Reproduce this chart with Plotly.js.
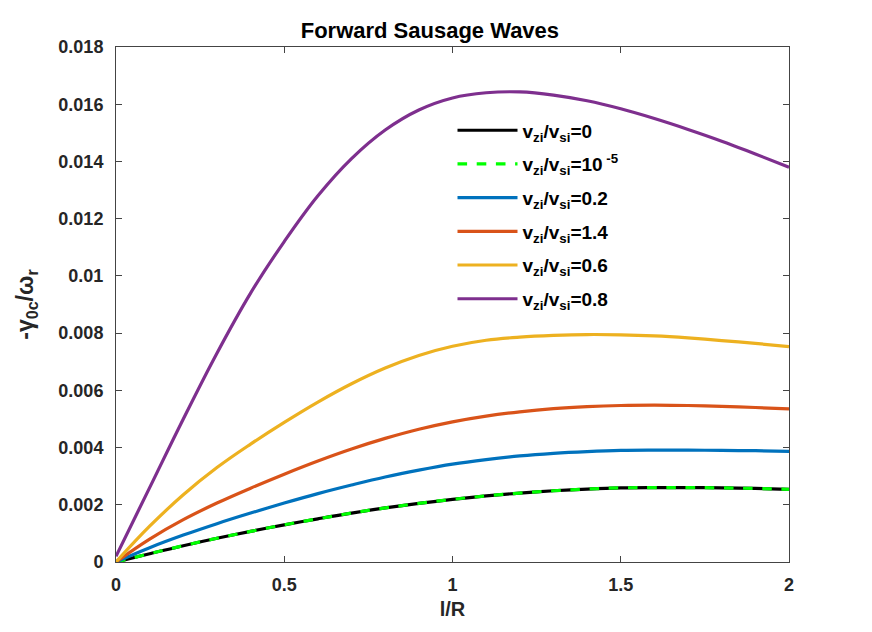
<!DOCTYPE html>
<html>
<head>
<meta charset="utf-8">
<script src="https://cdn.plot.ly/plotly-3.0.1.min.js"></script>
<style>
  html, body { margin: 0; padding: 0; background: #fff; }
  #chart { width: 872px; height: 632px; }
</style>
</head>
<body>
<div id="chart"></div>
<script>
// l/R sample positions
var lR = [0, 0.1, 0.2, 0.3, 0.4, 0.5, 0.6, 0.7, 0.8, 0.9, 1.0,
          1.1, 1.2, 1.3, 1.4, 1.5, 1.6, 1.7, 1.8, 1.9, 2.0];

// -gamma_0c / omega_r for each v_zi/v_si
var g0   = [0, 0.00029, 0.00057, 0.00083, 0.00107, 0.00130, 0.00151, 0.00171, 0.00189, 0.00205, 0.00219,
            0.00231, 0.00241, 0.00249, 0.00255, 0.00259, 0.00260, 0.00260, 0.00259, 0.00257, 0.00254];
var g1e5 = [0, 0.00029, 0.00057, 0.00083, 0.00107, 0.00130, 0.00151, 0.00171, 0.00189, 0.00205, 0.00219,
            0.00231, 0.00241, 0.00249, 0.00255, 0.00259, 0.00260, 0.00260, 0.00259, 0.00257, 0.00254];
var g02  = [0, 0.00050, 0.00094, 0.00134, 0.00171, 0.00206, 0.00239, 0.00269, 0.00297, 0.00321, 0.00342,
            0.00358, 0.00371, 0.00380, 0.00386, 0.00390, 0.00391, 0.00391, 0.00390, 0.00389, 0.00387];
var g14  = [0, 0.00080, 0.00148, 0.00206, 0.00258, 0.00307, 0.00353, 0.00395, 0.00432, 0.00464, 0.00490,
            0.00510, 0.00525, 0.00536, 0.00543, 0.00547, 0.00548, 0.00547, 0.00544, 0.00540, 0.00535];
var g06  = [0, 0.00125, 0.00235, 0.00330, 0.00412, 0.00488, 0.00559, 0.00623, 0.00678, 0.00722, 0.00754,
            0.00775, 0.00786, 0.00792, 0.00795, 0.00794, 0.00790, 0.00783, 0.00774, 0.00764, 0.00753];
var g08  = [0.0002, 0.0026, 0.0050, 0.0073, 0.0094, 0.0112, 0.0128, 0.0141, 0.0151, 0.0158, 0.01622,
            0.0164, 0.01643, 0.01632, 0.01612, 0.01584, 0.0155, 0.01512, 0.01471, 0.01426, 0.0138];

var names = ['v<sub>zi</sub>/v<sub>si</sub>=0',
             'v<sub>zi</sub>/v<sub>si</sub>=10<sup> -5</sup>',
             'v<sub>zi</sub>/v<sub>si</sub>=0.2',
             'v<sub>zi</sub>/v<sub>si</sub>=1.4',
             'v<sub>zi</sub>/v<sub>si</sub>=0.6',
             'v<sub>zi</sub>/v<sub>si</sub>=0.8'];
var series = [g0, g1e5, g02, g14, g06, g08];
var colors = ['#000000', '#00ff00', '#0072bd', '#d95319', '#edb120', '#7e2f8e'];
var dashes = ['solid', 'dash', 'solid', 'solid', 'solid', 'solid'];

var data = [];
for (var i = 0; i < series.length; i++) {
  data.push({
    x: lR,
    y: series[i],
    mode: 'lines',
    name: names[i],
    legendgroup: 'g' + i,
    line: {color: colors[i], width: 3.2, dash: dashes[i], shape: 'spline', smoothing: 1.1}
  });
}

var fam = 'Liberation Sans, Arial, sans-serif';
var tickFont = {family: fam, size: 18, color: '#262626', weight: 'bold'};

var layout = {
  width: 872,
  height: 632,
  margin: {l: 116, r: 83, t: 47, b: 70},
  paper_bgcolor: '#ffffff',
  plot_bgcolor: '#ffffff',
  font: {family: fam, color: '#262626'},
  title: {
    text: 'Forward Sausage Waves',
    font: {family: fam, size: 22, color: '#000', weight: 'bold'},
    x: 0.493, xanchor: 'center', y: 0.952, yanchor: 'middle'
  },
  xaxis: {
    range: [0, 2],
    tickvals: [0, 0.5, 1, 1.5, 2],
    ticktext: ['0', '0.5', '1', '1.5', '2'],
    ticks: 'inside', ticklen: 6, tickcolor: '#444',
    showline: true, linecolor: '#444', linewidth: 1, mirror: 'ticks',
    showgrid: false, zeroline: false,
    tickfont: tickFont, ticklabelstandoff: 6,
    title: {text: 'l/R', font: {family: fam, size: 20, color: '#262626', weight: 'bold'}, standoff: 8}
  },
  yaxis: {
    range: [0, 0.018],
    tickvals: [0, 0.002, 0.004, 0.006, 0.008, 0.01, 0.012, 0.014, 0.016, 0.018],
    ticktext: ['0', '0.002', '0.004', '0.006', '0.008', '0.01', '0.012', '0.014', '0.016', '0.018'],
    ticks: 'inside', ticklen: 6, tickcolor: '#444',
    showline: true, linecolor: '#444', linewidth: 1, mirror: 'ticks',
    showgrid: false, zeroline: false,
    tickfont: tickFont, ticklabelstandoff: 8,
    title: {text: '-γ<sub>0c</sub>/ω<sub>r</sub>', font: {family: fam, size: 23, color: '#262626', weight: 'bold'}, standoff: 18}
  },
  showlegend: true,
  legend: {
    x: 0.5, y: 0.875, xanchor: 'left', yanchor: 'top',
    bgcolor: 'rgba(0,0,0,0)', borderwidth: 0,
    font: {family: fam, size: 19, color: '#000', weight: 'bold'},
    itemwidth: 60,
    tracegroupgap: 6
  }
};

Plotly.newPlot('chart', data, layout, {displayModeBar: false, staticPlot: true});
</script>
</body>
</html>
